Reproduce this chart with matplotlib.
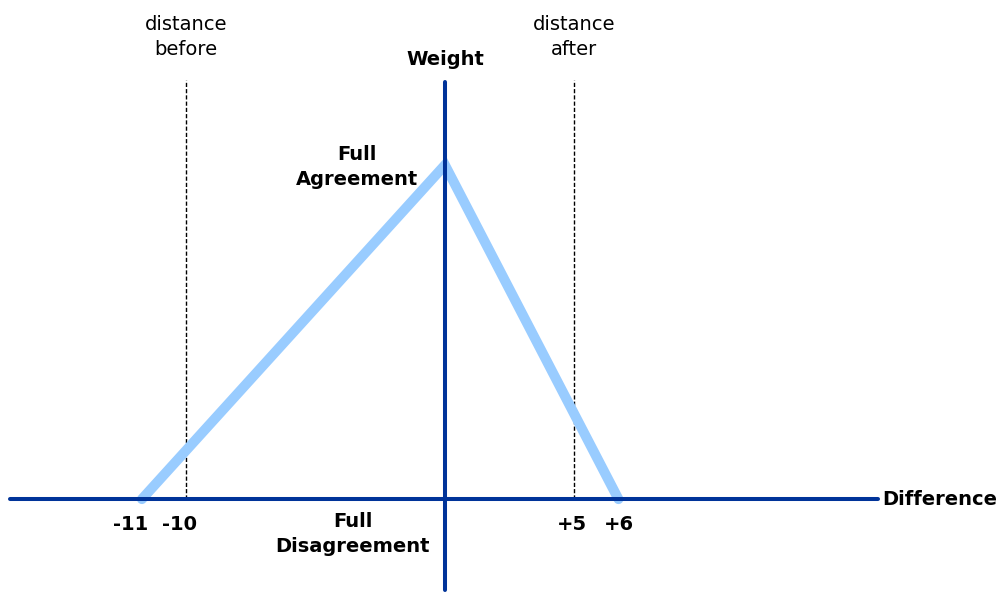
import matplotlib
matplotlib.use("Agg")
import matplotlib.pyplot as plt

# Schematic data (x in diagram units, y normalised weight)
triangle_x = [-11.7, 0.0, 6.7]
triangle_y = [0.0, 1.0, 0.0]
distance_x = [-10.0, 5.0]
distance_labels = ["distance\nbefore", "distance\nafter"]
tick_x = [-11.7, -10.0, 5.0, 6.7]
tick_labels = ["-11", "-10", "+5", "+6"]

fig = plt.figure(figsize=(10.02, 5.98), dpi=100)
ax = fig.add_axes([0, 0, 1, 1])
ax.set_xlim(-17.18, 21.51)
ax.set_ylim(-0.296, 1.494)
ax.axis("off")

dark = "#003399"
light = "#99CCFF"
font = "DejaVu Sans"

# dashed distance lines
for x in distance_x:
    ax.plot([x, x], [0, 1.254], color="black", lw=1.0, ls=(0, (3, 1.5)), zorder=1)

# weight function
ax.plot(triangle_x, triangle_y, color=light, lw=7.2, solid_capstyle="round",
        solid_joinstyle="miter", zorder=2)

# axes
ax.plot([-16.8, 16.72], [0, 0], color=dark, lw=2.9, solid_capstyle="round", zorder=3)
ax.plot([0, 0], [-0.2725, 1.2485], color=dark, lw=2.9, solid_capstyle="round", zorder=3)

# texts
ax.text(16.87, 0.0, "Difference", fontsize=14, fontweight="bold", family=font,
        ha="left", va="center")
ax.text(0, 1.315, "Weight", fontsize=14, fontweight="bold", family=font,
        ha="center", va="center")
ax.text(-3.4, 0.995, "Full\nAgreement", fontsize=14, fontweight="bold", family=font,
        ha="center", va="center", linespacing=1.4)
ax.text(-3.55, -0.105, "Full\nDisagreement", fontsize=14, fontweight="bold", family=font,
        ha="center", va="center", linespacing=1.4)
for x, lab in zip(distance_x, distance_labels):
    ax.text(x, 1.383, lab, fontsize=14, family=font, ha="center", va="center",
            linespacing=1.45)
offsets = [-0.45, -0.25, -0.1, 0.0]
for x, lab, o in zip(tick_x, tick_labels, offsets):
    ax.text(x + o, -0.075, lab, fontsize=14, fontweight="bold", family=font,
            ha="center", va="center")

fig.savefig("out.png", dpi=100)
